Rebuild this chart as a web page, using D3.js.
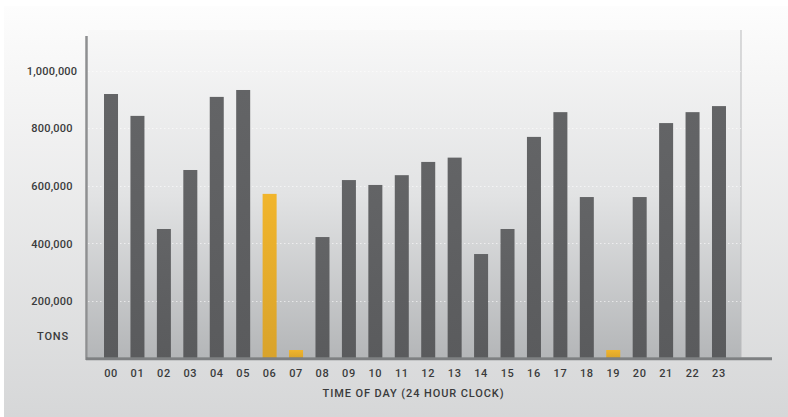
<!DOCTYPE html>
<html><head><meta charset="utf-8">
<script src="https://cdn.jsdelivr.net/npm/d3@7"></script>
<style>html,body{margin:0;padding:0;background:#fff;}svg{display:block;}</style>
</head><body>
<svg id="c" width="788" height="417"></svg>
<script>
const hours = ["00","01","02","03","04","05","06","07","08","09","10","11","12","13","14","15","16","17","18","19","20","21","22","23"];
const tons = [919000,843000,450000,655000,909000,933000,572000,29500,422000,620000,603000,637000,683000,698000,363000,450000,770000,856000,561000,29500,561000,818000,856000,877000];
const highlighted = ["06","07","19"];
const yTicks = [200000,400000,600000,800000,1000000];
const yTickLabels = ["200,000","400,000","600,000","800,000","1,000,000"];
const yUnitLabel = "TONS";
const xTitle = "TIME OF DAY (24 HOUR CLOCK)";

const svg = d3.select("#c");
const defs = svg.append("defs");
function grad(id, stops){
  const g = defs.append("linearGradient").attr("id",id).attr("x1",0).attr("y1",0).attr("x2",0).attr("y2",1);
  stops.forEach(s=>g.append("stop").attr("offset",s[0]).attr("stop-color",s[1]));
}
grad("bgG",[[0,"#fdfdfd"],[0.15,"#f7f7f7"],[1,"#d6d7d8"]]);
grad("panelG",[[0,"#f8f8f8"],[0.5,"#e2e3e4"],[1,"#b4b6b8"]]);
grad("yelG",[[0,"#f1b52c"],[1,"#d9a32b"]]);
grad("grayG",[[0,"#636466"],[1,"#5a5b5d"]]);

const plotTop = 30, plotBottom = 357.5, panelL = 88, panelR = 741;
const x = d3.scaleBand().domain(hours).range([97.8, 732.2]).paddingInner(0.47).paddingOuter(0.235);
const y = d3.scaleLinear().domain([0,1000000]).range([358.5, 70.7]);

svg.append("rect").attr("x",0).attr("y",0).attr("width",788).attr("height",417).attr("fill","#ffffff");
svg.append("rect").attr("x",4).attr("y",6).attr("width",784).attr("height",411).attr("fill","url(#bgG)");
svg.append("rect").attr("x",panelL).attr("y",plotTop).attr("width",panelR-panelL).attr("height",plotBottom-plotTop).attr("fill","url(#panelG)");
svg.append("line").attr("x1",panelR).attr("x2",panelR).attr("y1",plotTop).attr("y2",plotBottom).attr("stroke","#b9babc").attr("stroke-width",1);

// gridlines
svg.append("g").selectAll("line").data(yTicks).join("line")
  .attr("x1",panelL).attr("x2",panelR)
  .attr("y1",d=>Math.round(y(d))+0.5).attr("y2",d=>Math.round(y(d))+0.5)
  .attr("stroke","#ffffff").attr("stroke-opacity",0.6).attr("stroke-width",1).attr("stroke-dasharray","1.5,2.5");

// bars
svg.append("g").selectAll("rect").data(hours).join("rect")
  .attr("x",d=>x(d)).attr("width",x.bandwidth())
  .attr("y",(d,i)=>y(tons[i])).attr("height",(d,i)=>y(0)-y(tons[i]))
  .attr("fill",d=>highlighted.includes(d)?"url(#yelG)":"url(#grayG)");

// axes lines
svg.append("line").attr("x1",86.5).attr("x2",86.5).attr("y1",36).attr("y2",360).attr("stroke","#8e8f91").attr("stroke-width",2.5);
svg.append("line").attr("x1",86).attr("x2",772).attr("y1",358.8).attr("y2",358.8).attr("stroke","#7e8082").attr("stroke-width",3);

const font = "Roboto, 'Liberation Sans', sans-serif";
// y labels
svg.append("g").selectAll("text").data(yTicks).join("text")
  .attr("x",52).attr("y",d=>y(d)+4.2).attr("text-anchor","middle")
  .attr("font-family",font).attr("font-size","11px").attr("font-weight",500).attr("letter-spacing","0.2px")
  .attr("fill","#3a3b3c").text((d,i)=>yTickLabels[i]);
svg.append("text").attr("x",53).attr("y",340).attr("text-anchor","middle")
  .attr("font-family",font).attr("font-size","11px").attr("font-weight",500).attr("letter-spacing","0.8px")
  .attr("fill","#3a3b3c").text(yUnitLabel);

// x labels
const xAxis = svg.append("g").attr("transform","translate(0,359)").call(d3.axisBottom(x).tickSize(0).tickPadding(0));
xAxis.select(".domain").remove();
xAxis.selectAll("text").attr("y",18).attr("dy",0).attr("font-family",font).attr("font-size","11px").attr("font-weight",500)
  .attr("letter-spacing","0.6px").attr("fill","#3a3b3c");

svg.append("text").attr("x",413.5).attr("y",397).attr("text-anchor","middle")
  .attr("font-family",font).attr("font-size","11px").attr("font-weight",500).attr("letter-spacing","0.9px")
  .attr("fill","#3a3b3c").text(xTitle);
</script>
</body></html>
